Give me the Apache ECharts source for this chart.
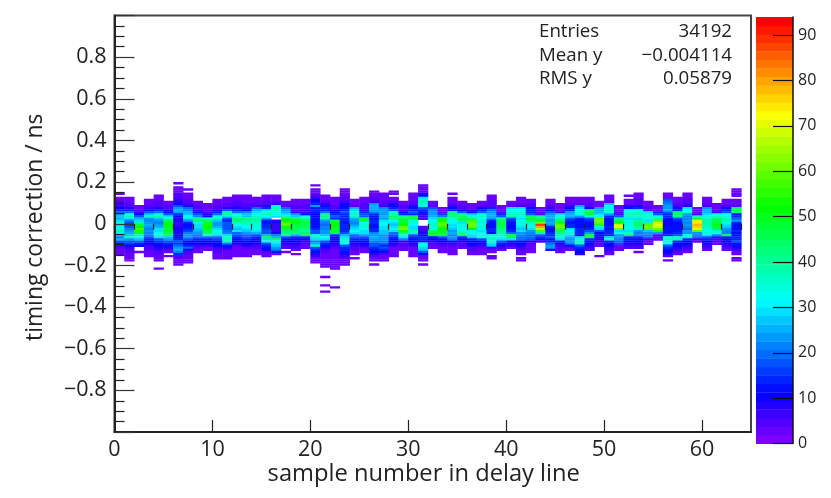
<!DOCTYPE html>
<html><head><meta charset="utf-8">
<style>html,body{margin:0;padding:0;background:#fff}#c{width:831px;height:498px}</style>
<script src="https://cdn.jsdelivr.net/npm/echarts@6/dist/echarts.min.js"></script>
</head><body><div id="c"></div>
<script>
// top edge of each column's first cell, in hundredths of a ns
const columnTops = [15,13,9,12,14,11,20,17,11,10,12,13,14,14,13,14,14,11,12,12,19,14,13,17,12,13,16,15,16,11,15,19,11,8,15,11,10,11,14,9,11,13,12,8,12,10,13,13,13,11,14,9,14,15,11,9,15,13,15,8,13,10,12,17];
// counts in each column, from the top cell downwards (each cell 0.01 ns tall)
const columnCounts = [
[2,0,2,3,4,5,7,10,15,20,24,28,26,30,34,36,33,34,38,32,26,22,26,18,13,7,4,3,2,2],
[2,3,3,4,5,9,15,20,34,38,30,22,18,16,18,22,24,26,28,36,24,18,16,13,7,5,4,3,2,2,1],
[2,3,4,6,10,18,26,30,38,46,52,58,54,48,38,32,28,20,15,12,0,0,2],
[2,3,3,4,7,13,18,28,36,24,22,24,26,24,22,24,22,22,18,14,13,10,7,5,4,3,2,2],
[2,3,3,4,4,5,9,15,20,36,38,28,24,22,24,26,30,30,32,34,30,18,16,13,11,9,7,5,4,3,2,2,0,0,0,2],
[2,3,4,5,8,12,17,30,34,46,50,52,50,48,50,46,44,28,24,18,15,12,9,5,3,0,2],
[2,0,2,3,3,4,5,5,6,9,13,18,24,26,24,15,10,8,8,7,7,8,10,9,8,10,13,15,17,16,20,24,26,22,14,5,4,3,3,2],
[2,0,2,3,3,4,5,7,12,20,22,26,28,32,30,24,14,12,12,14,16,22,24,24,18,13,11,15,20,10,4,4,3,3,2,2],
[2,3,4,4,7,12,17,22,40,42,34,30,30,28,26,24,22,20,15,13,11,7,4,3,2],
[2,3,3,4,5,8,11,36,44,48,54,52,50,46,44,34,20,15,13,10,6,3,2],
[2,3,3,4,5,9,15,20,34,36,28,24,24,26,30,32,34,30,20,16,13,12,10,7,5,4,3,2,2],
[2,3,3,4,5,9,17,38,40,30,18,15,17,17,17,18,20,22,30,34,36,36,22,13,8,4,3,3,2,2],
[2,3,3,4,5,6,9,15,20,34,36,42,44,36,32,30,28,30,20,18,15,13,11,8,4,3,3,2,2,2],
[2,2,3,3,4,4,6,12,22,28,28,42,40,36,34,32,30,28,24,20,18,15,13,11,9,4,3,2,2,2],
[2,3,3,4,7,20,26,30,34,36,38,38,36,34,34,32,30,26,18,15,13,11,9,7,4,3,2,2],
[2,3,3,4,5,9,15,30,34,36,32,26,15,12,14,14,16,17,18,26,46,30,32,18,15,13,11,4,3,2],
[2,3,3,4,7,34,38,36,34,32,30,0,9,8,7,7,6,7,12,22,26,44,32,30,28,24,22,12,3],
[2,3,4,20,24,26,30,38,48,52,58,60,52,48,44,42,40,18,13,10,8,5,4,0,2],
[2,3,3,4,4,5,6,24,28,44,50,52,48,46,44,44,42,26,15,13,11,9,7,5,3,0,2],
[2,3,3,4,4,6,7,12,34,38,44,48,46,44,42,38,44,46,15,12,7,4,3,2],
[2,0,2,3,3,4,7,10,13,15,24,13,15,13,10,10,12,12,12,12,13,15,17,18,34,36,30,22,26,36,18,15,13,9,6,3,3,2],
[2,3,3,4,9,12,15,15,20,40,42,38,24,22,20,22,22,24,24,28,32,30,18,15,13,9,5,4,3,3,3,2,2,2,2,0,0,0,0,2,0,0,0,2,0,0,2],
[2,2,3,3,4,5,9,12,15,17,15,46,50,52,50,48,50,46,15,13,13,11,9,7,4,3,3,2,2,2,2,2,2,2,2,0,0,0,0,0,0,0,0,2],
[2,3,3,3,4,4,7,10,13,13,15,17,15,15,15,14,12,14,14,14,15,17,26,30,34,34,32,18,15,15,13,9,6,4,3,3,2],
[2,3,3,4,26,30,34,36,36,26,24,22,24,28,30,32,30,20,18,15,13,9,7,5,4,3,2,0,2],
[2,3,3,4,4,5,7,15,17,17,46,48,32,34,34,32,30,30,24,18,15,13,11,8,5,3,2],
[2,3,3,4,5,7,24,26,26,24,22,15,13,13,15,15,13,13,15,15,22,24,26,24,22,18,17,15,13,11,9,4,3,3,0,2],
[2,2,3,3,4,4,6,22,24,24,24,26,24,30,32,32,30,30,28,28,24,24,24,22,20,15,17,15,12,4,3,3,2],
[2,3,0,2,3,4,9,12,15,17,36,38,44,42,32,30,28,30,34,30,20,18,15,13,11,9,6,3,2,2,2,2],
[2,3,4,4,5,12,15,42,46,48,50,52,60,62,54,44,34,30,22,7,5,4,3,2],
[2,3,3,3,4,5,9,12,15,17,15,46,48,34,34,32,30,30,36,36,18,15,13,11,9,6,3,3,2,2,2],
[2,2,2,3,9,12,30,36,38,34,32,17,15,12,9,6,4,0,0,0,5,7,7,8,12,15,15,13,32,34,30,28,17,12,3,3,2,0,2],
[2,3,4,18,22,24,24,26,30,32,34,36,34,32,44,48,50,13,10,8,5,3,2],
[2,3,3,16,22,48,54,58,60,56,52,50,48,48,18,13,10,6,4,3,3,2],
[2,0,2,3,3,4,7,12,15,40,44,42,34,32,32,30,30,28,24,26,22,24,22,12,6,4,3,3,2,2],
[2,3,4,4,12,17,40,44,46,44,30,32,34,32,34,40,44,15,13,9,5,4,2],
[2,3,3,9,12,28,34,42,58,60,62,60,52,34,32,30,28,15,13,11,8,5,4,3,2],
[2,3,4,12,15,17,34,36,32,34,34,32,34,32,30,32,34,32,18,13,9,6,4,3,3,2],
[2,3,3,4,5,5,15,20,24,26,26,24,15,13,13,13,15,15,13,32,34,36,34,30,28,7,3,2,0,2,2],
[2,3,3,4,15,17,40,44,46,46,44,42,40,38,36,32,30,18,15,9,6,2],
[2,3,4,30,32,34,36,38,17,15,13,13,10,12,15,20,46,48,30,13,9,6,3],
[2,3,3,4,7,30,32,34,36,32,30,32,34,32,30,28,30,24,22,20,20,13,12,9,6,4,2,2,0,2,2],
[2,3,4,4,12,15,15,17,46,48,44,36,34,32,30,24,22,20,20,17,9,4,3,3,2,2],
[2,3,3,4,40,44,48,62,90,80,66,58,40,18,15,12,5],
[2,3,3,4,7,12,17,24,26,26,24,26,24,15,13,13,15,15,17,13,15,20,24,24,12],
[2,3,3,4,7,30,34,38,44,54,60,62,58,44,40,36,34,30,15,9,6,5,4,3],
[2,3,3,4,7,12,15,24,26,26,17,15,13,15,15,30,32,34,30,26,24,24,22,12,4,3],
[2,3,3,4,26,30,32,34,34,24,15,13,13,13,13,15,15,15,13,30,34,36,34,18,15,13,11,9],
[2,3,3,4,5,9,44,46,48,34,18,15,13,13,13,15,17,24,46,48,15,13,11,9,6,4],
[2,3,3,24,26,26,30,32,60,62,60,56,36,30,18,13,13,9,8,6,4,3,0,0,0,0,2],
[2,3,3,4,28,32,34,36,34,24,15,13,13,13,13,15,13,15,15,15,30,34,15,13,11,9,6,4,2],
[2,3,3,4,5,17,40,46,52,68,70,62,30,32,24,24,22,20,17,3,3,2],
[2,0,2,3,3,9,12,32,34,36,36,30,32,34,34,32,32,30,34,46,15,13,12,9,6,4],
[2,3,3,4,5,5,9,15,34,36,36,34,30,40,42,44,40,38,24,22,22,15,13,11,9,6,4,0,2],
[2,3,3,4,5,30,34,36,34,30,36,60,62,60,28,24,22,20,7,3,2],
[2,3,3,15,17,34,38,60,66,70,68,62,56,24,5,4,2],
[2,3,3,17,20,22,24,24,26,17,15,15,13,10,10,10,12,12,12,13,15,34,36,34,32,18,15,13,11,9,5,0,2],
[2,3,3,4,7,12,15,44,46,40,18,15,13,13,13,13,13,15,18,34,36,15,13,11,9,6,4,3],
[2,3,3,4,5,7,9,30,32,34,24,22,22,24,22,24,22,20,24,24,34,36,15,13,11,9,6,4,3],
[2,3,3,4,36,48,70,74,78,76,70,60,24,22,20,6,3],
[2,3,3,4,7,24,26,26,30,34,36,38,38,38,36,34,32,34,30,18,15,13,9,6,4,3],
[2,3,3,4,7,34,36,44,46,48,50,48,46,36,34,22,15,5,4,3],
[2,3,3,4,12,15,17,32,34,36,36,34,30,28,24,22,22,46,15,13,11,9,6,4,3],
[2,3,3,3,0,3,3,3,4,44,46,42,13,15,17,24,15,13,13,13,15,13,13,15,15,17,13,13,9,6,3,2,0,2,2]
];
const xMajorTicks = [0,10,20,30,40,50,60];
const xMinorTicks = [0,2,4,6,8,12,14,16,18,22,24,26,28,32,34,36,38,42,44,46,48,52,54,56,58,62,64];
const barTicks = [0,10,20,30,40,50,60,70,80,90];
const zMax = 94;
const levelCount = 50;
const paletteStops = [[0,[128,0,255]],[1/9,[0,0,255]],[3/9,[0,255,255]],[5/9,[0,255,0]],[7/9,[255,255,0]],[1,[255,0,0]]];
const statRows = [["Entries","34192"],["Mean y","\u22120.004114"],["RMS y","0.05879"]];
const FONT = '"Open Sans"';
const INK = '#222';

function levelColor(i){
  const t = i/(levelCount-1);
  for(let k=1;k<paletteStops.length;k++){
    if(t<=paletteStops[k][0]+1e-9){
      const a=paletteStops[k-1],b=paletteStops[k],f=(t-a[0])/(b[0]-a[0]);
      const c=a[1].map((v,j)=>Math.round(v+(b[1][j]-v)*f));
      return 'rgb('+c.join(',')+')';
    }
  }
  return 'rgb(255,0,0)';
}
function valueColor(v){
  return levelColor(Math.min(levelCount-1,Math.floor(v/zMax*levelCount)));
}
const cells=[];
columnCounts.forEach((col,x)=>col.forEach((n,i)=>{
  if(n>0) cells.push([x,(columnTops[x]-i)/100,n]);
}));
const levels=[];
for(let i=0;i<levelCount;i++) levels.push([i*zMax/levelCount,(i+1)*zMax/levelCount,i]);

function renderCell(params,api){
  const p=api.coord([api.value(0),api.value(1)]);
  const s=api.size([1,0.01]);
  return {type:'rect',shape:{x:p[0],y:p[1],width:s[0]+0.4,height:s[1]+0.3},
    style:{fill:valueColor(api.value(2))},silent:true};
}
function renderLevel(params,api){
  const a=api.coord([0,api.value(1)]);
  const b=api.coord([1,api.value(0)]);
  return {type:'rect',shape:{x:a[0],y:a[1],width:b[0]-a[0],height:b[1]-a[1]+0.4},
    style:{fill:levelColor(api.value(2))},silent:true};
}
function yLabel(v){
  const r=Math.round(v*10)/10;
  if(Math.abs(r)>=1) return '';
  if(r===0) return '0';
  return (r<0?'\u2212':'')+Math.abs(r).toFixed(1);
}
const chart=echarts.init(document.getElementById('c'),null,{renderer:'canvas'});
const graphics=[];
statRows.forEach((r,i)=>{
  const y=33.5+i*23.5;
  graphics.push({type:'text',z:20,x:539,y:y-11,style:{text:r[0],font:'18.7px '+FONT,fill:INK}});
  graphics.push({type:'text',z:20,x:732,y:y-11,style:{text:r[1],font:'18.7px '+FONT,fill:INK,align:'right'}});
});
chart.setOption({
  animation:false,
  backgroundColor:'#fff',
  textStyle:{fontFamily:FONT},
  grid:[
    {left:114.5,top:15.5,width:636.5,height:416.5,show:true,borderColor:'#444',borderWidth:2},
    {left:756,top:17,width:37,height:426.6}
  ],
  xAxis:[
    {gridIndex:0,type:'value',min:0,max:65,interval:10,z:6,name:'sample number in delay line',nameLocation:'middle',nameGap:30,nameMoveOverlap:false,
     nameTextStyle:{fontSize:23.7,color:INK,fontFamily:FONT,padding:[0,18,0,0]},
     axisLine:{show:true,onZero:false,lineStyle:{color:'#222',width:2}},
     axisTick:{show:true,inside:true,length:12,customValues:xMajorTicks,lineStyle:{color:'#222',width:1.2}},
     axisLabel:{show:true,customValues:xMajorTicks,fontSize:21.5,color:INK,margin:7,fontFamily:FONT,formatter:v=>String(v)},
     splitLine:{show:false}},
    {gridIndex:0,type:'value',min:0,max:65,interval:10,z:6,
     axisLine:{show:false},
     axisTick:{show:true,inside:true,length:6,customValues:xMinorTicks,lineStyle:{color:'#222',width:1.2}},
     axisLabel:{show:false},splitLine:{show:false}},
    {gridIndex:1,type:'value',min:0,max:1,show:false}
  ],
  yAxis:[
    {gridIndex:0,type:'value',min:-1,max:1,interval:0.2,z:6,name:'timing correction / ns',nameLocation:'middle',nameGap:68,
     nameTextStyle:{fontSize:22.9,color:INK,fontFamily:FONT,padding:[0,7,0,0]},
     axisLine:{show:true,onZero:false,lineStyle:{color:'#222',width:2}},
     axisTick:{show:true,inside:true,length:20,lineStyle:{color:'#333',width:1.2}},
     minorTick:{show:true,splitNumber:4,length:10,lineStyle:{color:'#222',width:1.2}},
     axisLabel:{show:true,fontSize:21.5,color:INK,margin:8,fontFamily:FONT,formatter:yLabel,showMinLabel:false,showMaxLabel:false},
     splitLine:{show:false},minorSplitLine:{show:false}},
    {gridIndex:1,type:'value',min:0,max:zMax,position:'right',interval:10,z:6,
     axisLine:{show:true,onZero:false,lineStyle:{color:'#111',width:1.5}},
     axisTick:{show:true,inside:true,length:20,customValues:barTicks,lineStyle:{color:'#111',width:1.2}},
     axisLabel:{show:true,customValues:barTicks,fontSize:16,color:INK,margin:5,fontFamily:FONT,formatter:v=>String(v)},
     splitLine:{show:false}}
  ],
  series:[
    {type:'custom',xAxisIndex:0,yAxisIndex:0,coordinateSystem:'cartesian2d',renderItem:renderCell,encode:{x:0,y:1},data:cells,clip:true,silent:true,z:2},
    {type:'custom',xAxisIndex:2,yAxisIndex:1,coordinateSystem:'cartesian2d',renderItem:renderLevel,data:levels,silent:true,z:2}
  ],
  graphic:graphics
});
</script></body></html>
